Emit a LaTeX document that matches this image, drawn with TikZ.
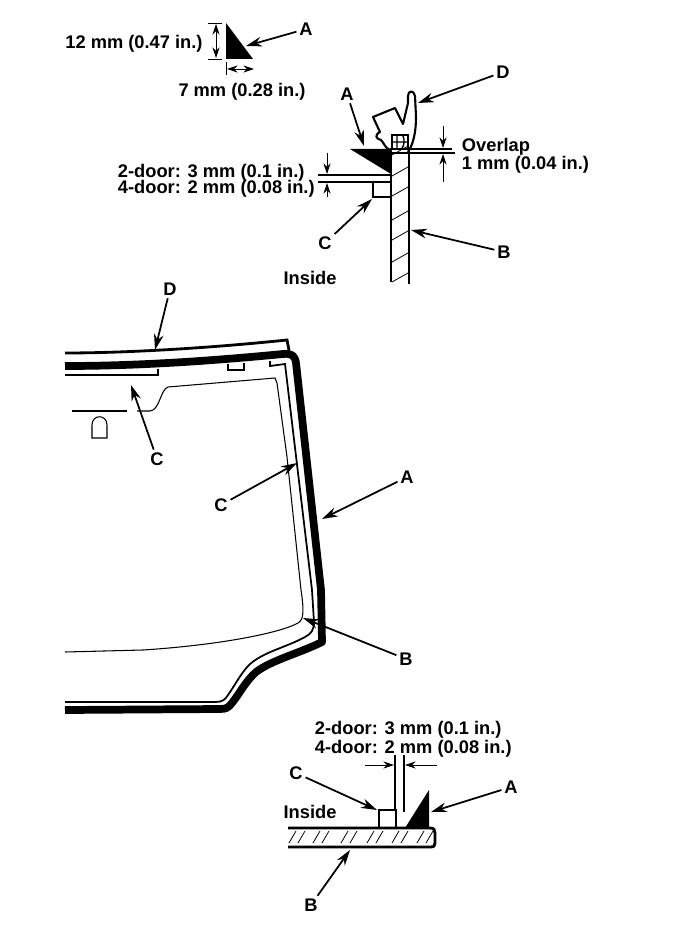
\documentclass[tikz,border=0pt]{standalone}
\usepackage{fontspec}
\setmainfont{Liberation Sans}
\usetikzlibrary{arrows.meta}
\begin{document}
\begin{tikzpicture}[x=0.2mm,y=-0.2mm]
	\tikzstyle{every node}=[inner sep=1.5pt, font=\fontsize{10.4}{13}\selectfont\bfseries];
	\tikzstyle{callout}=[line width=1pt, -{Stealth[length=9pt,width=5.5pt]}];
	\tikzstyle{dim}=[line width=0.5pt];
	\tikzstyle{dimarrow}=[line width=0.5pt, -{Stealth[length=6pt,width=4pt]}];
	\tikzstyle{edge}=[line width=1.6pt];
	\tikzstyle{seal}=[line width=4.4pt, line join=round];
	\tikzstyle{hatch}=[line width=0.45pt];
	\tikzstyle{thinline}=[line width=0.6pt];
	\useasboundingbox (0,0) rectangle (672,950);
	\node (sizeh) at (134,44) {12 mm (0.47 in.)};
	\node (sizew) at (242,92) {7 mm (0.28 in.)};
	\node (lblA1) at (306,29) {A};
	\coordinate (beadtop) at (226,23);
	\coordinate (beadcorner) at (226,59);
	\coordinate (beadright) at (253,59);
	\coordinate (pA1) at (246,46);
	\fill (beadtop) -- (beadcorner) -- (beadright) -- cycle;
	\draw[callout] (lblA1) -- (pA1);
	\draw[dim] (208,23) -- (222,23);
	\draw[dim] (208,59) -- (222,59);
	\draw[dimarrow] (216,41) -- (216,24);
	\draw[dimarrow] (216,41) -- (216,58);
	\draw[dim] (226,62) -- (226,75);
	\draw[dimarrow] (239,69) -- (227,69);
	\draw[dimarrow] (239,69) -- (254,69);

	\node (lblD1) at (503,72) {D};
	\node (lblA2) at (347,94) {A};
	\node (lblC1) at (325,243) {C};
	\node (lblB1) at (504,252) {B};
	\node (inside1) at (310,278) {Inside};
	\node [anchor=west] (overlap) at (459,147) {Overlap};
	\node [anchor=west] (overlapmm) at (459,165) {1 mm (0.04 in.)};
	\node [anchor=west] (gap2a) at (115,173) {2-door: 3 mm (0.1 in.)};
	\node [anchor=west] (gap4a) at (115,189) {4-door: 2 mm (0.08 in.)};
	\coordinate (pD1) at (418,103);
	\coordinate (pA2) at (364,146);
	\coordinate (pC1) at (372,199);
	\coordinate (pB1) at (411,230);
	\fill (350,149) -- (391,149) -- (391,174) -- cycle;
	\draw[edge] (391,148) -- (391,282);
	\draw[edge] (409,150) -- (409,284);
	\foreach \y in {155,176,196,220,240,262,282}
		\draw[hatch] (392,\y) -- (408,\y-9);
	\draw[edge] (373,182) rectangle (391,197);
	\draw[line width=1.2pt, line join=round] (408,152) .. controls (414,143) and (416,130) .. (416,117) -- (415,96) .. controls (414,90) and (408,90) .. (408,96) -- (408,103) -- (403,124) -- (395,108) -- (373,117) -- (380,132) .. controls (374,135) and (376,139) .. (381,140) .. controls (384,143) and (385,148) .. (390,150);
	\draw[line width=1pt] (392,148) -- (392,135) -- (408,135) -- (408,150);
	\draw[line width=0.8pt] (393,142) -- (407,142) (397,136) -- (397,148) (403,136) .. controls (405,140) and (404,146) .. (402,148);
	\draw[thinline] (392,149) -- (452,149);
	\draw[thinline] (392,153) -- (455,153);
	\draw[dimarrow] (443,126) -- (443,148);
	\draw[dimarrow] (443,182) -- (443,154);
	\draw[thinline] (318,175) -- (391,175);
	\draw[thinline] (318,182) -- (373,182);
	\draw[dimarrow] (327,153) -- (327,174);
	\draw[dimarrow] (327,197) -- (327,183);
	\draw[callout] (lblD1) -- (pD1);
	\draw[callout] (lblA2) -- (pA2);
	\draw[callout] (lblC1) -- (pC1);
	\draw[callout] (lblB1) -- (pB1);

	\node (lblD2) at (170,289) {D};
	\node (lblC2) at (157,459) {C};
	\node (lblC3) at (221,505) {C};
	\node (lblA3) at (407,477) {A};
	\node (lblB2) at (406,659) {B};
	\coordinate (pD2) at (155,350);
	\coordinate (pC2) at (131,385);
	\coordinate (pC3) at (297,463);
	\coordinate (pA3) at (322,519);
	\coordinate (pB2) at (303,618);
	\draw[edge] (65,353) .. controls (120,353) and (200,349) .. (287,340) -- (289,350);
	\draw[seal] (65,366) .. controls (130,366) and (200,362) .. (283,354) .. controls (292,353) and (295,356) .. (296,363) -- (321,590) -- (322,642) .. controls (300,653) and (272,660) .. (256,672) .. controls (245,682) and (240,693) .. (232,703) .. controls (228,708) and (226,709) .. (220,709) -- (65,710);
	\draw[edge] (65,375) -- (158,375) -- (158,369);
	\draw[thinline] (228,364) -- (228,370) -- (244,370) -- (244,363);
	\draw[line width=1pt] (270,361) -- (270,366) -- (285,364) -- (312,590) -- (314,622) .. controls (314,630) and (311,634) .. (305,637) .. controls (285,648) and (262,652) .. (248,666) .. controls (240,675) and (235,685) .. (228,695) .. controls (225,700) and (222,702) .. (215,702) -- (65,702);
	\draw[thinline] (72,411) -- (127,411);
	\draw[thinline] (137,411) -- (150,411) .. controls (160,410) and (160,390) .. (168,387) -- (275,378) -- (277,383) -- (287,457) -- (301,590) .. controls (304,610) and (304,620) .. (298,623) .. controls (280,633) and (220,645) .. (143,650) -- (65,652);
	\draw[thinline] (92,438) -- (92,425) .. controls (92,414) and (107,414) .. (107,425) -- (107,438) -- cycle;
	\draw[callout] (lblD2) -- (pD2);
	\draw[callout] (lblC2) -- (pC2);
	\draw[callout] (lblC3) -- (pC3);
	\draw[callout] (lblA3) -- (pA3);
	\draw[callout] (lblB2) -- (pB2);

	\node [anchor=west] (gap2b) at (312,730) {2-door: 3 mm (0.1 in.)};
	\node [anchor=west] (gap4b) at (312,749) {4-door: 2 mm (0.08 in.)};
	\node (lblC4) at (296,773) {C};
	\node (lblA4) at (511,787) {A};
	\node (inside2) at (310,812) {Inside};
	\node (lblB3) at (311,905) {B};
	\coordinate (pC4) at (377,810);
	\coordinate (pA4) at (431,812);
	\coordinate (pB3) at (350,850);
	\fill (429,790) -- (429,828) -- (405,828) -- cycle;
	\draw[edge] (379,828) -- (379,810) -- (396,810) -- (396,828);
	\draw[edge] (288,828) -- (430,828) .. controls (434,828) and (435,830) .. (435,833) -- (435,843) .. controls (435,846) and (434,847) .. (430,847) -- (288,847);
	\foreach \x in {289,313,341,367,392,417}{
		\draw[hatch] (\x,843) -- (\x+7,831);
		\draw[hatch] (\x+9,843) -- (\x+16,831);
	}
	\draw[thinline] (395,755) -- (395,810);
	\draw[thinline] (404,755) -- (404,812);
	\draw[dimarrow] (365,765) -- (394,765);
	\draw[dimarrow] (437,765) -- (405,765);
	\draw[callout] (lblC4) -- (pC4);
	\draw[callout] (lblA4) -- (pA4);
	\draw[callout] (lblB3) -- (pB3);
\end{tikzpicture}
\end{document}
